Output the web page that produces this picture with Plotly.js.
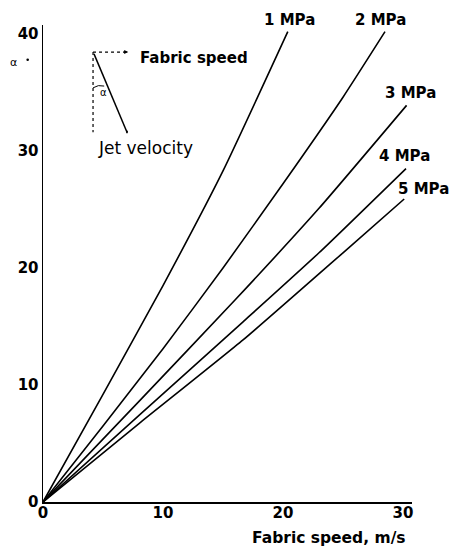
<!DOCTYPE html>
<html>
<head>
<meta charset="utf-8">
<script src="https://cdn.plot.ly/plotly-3.0.1.min.js"></script>
<style>html,body{margin:0;padding:0;background:#fff;}</style>
</head>
<body>
<div id="chart" style="width:451px;height:549px;"></div>
<script>
// Data: angle alpha (deg) vs fabric speed (m/s)
const seriesNames = ["1 MPa", "2 MPa", "3 MPa", "4 MPa", "5 MPa"];
const speed1 = [0, 5, 10, 15, 20.4];
const alpha1 = [0, 9.2, 18.5, 28.3, 40.2];
const speed2 = [0, 5, 10, 15, 20, 25, 28.5];
const alpha2 = [0, 6.5, 13.1, 20.0, 27.2, 34.6, 40.2];
const speed3 = [0, 8, 16, 23, 30.3];
const alpha3 = [0, 8.6, 17.26, 25.1, 33.9];
const speed4 = [0, 8, 16.67, 23, 30.25];
const alpha4 = [0, 7.4, 15.4, 21.3, 28.5];
const speed5 = [0, 8, 16.67, 25, 30.1];
const alpha5 = [0, 6.7, 13.85, 21.3, 25.9];
const xTicks = [0, 10, 20, 30];
const yTicks = [0, 10, 20, 30, 40];

const xs = [speed1, speed2, speed3, speed4, speed5];
const ys = [alpha1, alpha2, alpha3, alpha4, alpha5];
const labelShift = [[2, 12], [-5, 12], [4, 12], [-2, 13], [19, 10]];

const traces = xs.map((x, i) => ({
  x: x, y: ys[i], mode: "lines", name: seriesNames[i],
  line: {color: "#000", width: 1.6, shape: "spline", smoothing: 0.5}, hoverinfo: "skip"
}));

const annotations = xs.map((x, i) => ({
  x: x[x.length - 1], y: ys[i][ys[i].length - 1], xref: "x", yref: "y",
  text: "<b>" + seriesNames[i] + "</b>", showarrow: false,
  xanchor: "center", yanchor: "middle",
  xshift: labelShift[i][0], yshift: labelShift[i][1],
  font: {family: "DejaVu Sans", size: 15, color: "#000"}
}));

annotations.push(
  {x: 7.92, y: 37.95, xref: "x", yref: "y", text: "<b>Fabric speed</b>", showarrow: false,
   xanchor: "left", yanchor: "middle", font: {family: "DejaVu Sans", size: 15, color: "#000"}},
  {x: 4.4, y: 30.3, xref: "x", yref: "y", text: "Jet velocity", showarrow: false,
   xanchor: "left", yanchor: "middle", font: {family: "DejaVu Sans", size: 17, color: "#000"}},
  {x: 5.0, y: 35.0, xref: "x", yref: "y", text: "α", showarrow: false,
   xanchor: "center", yanchor: "middle", font: {family: "DejaVu Sans", size: 10, color: "#000"}},
  {x: -0.081, y: 37.6, xref: "paper", yref: "y", text: "α", showarrow: false,
   xanchor: "center", yanchor: "middle", font: {family: "DejaVu Sans", size: 11, color: "#000"}},
  {x: 0.989, y: -0.0755, xref: "paper", yref: "paper", text: "<b>Fabric speed, m/s</b>", showarrow: false,
   xanchor: "right", yanchor: "middle", font: {family: "DejaVu Sans", size: 15.5, color: "#000"}},
  // arrow head of the fabric speed component
  {x: 7.1, y: 38.46, ax: 6.6, ay: 38.46, xref: "x", yref: "y", axref: "x", ayref: "y",
   text: "", showarrow: true, arrowhead: 2, arrowsize: 0.8, arrowwidth: 1, arrowcolor: "#000"}
);

const shapes = [
  {type: "line", xref: "x", yref: "y", x0: 4.17, y0: 38.46, x1: 7.0, y1: 38.46,
   line: {color: "#000", width: 1.2, dash: "dot"}},
  {type: "line", xref: "x", yref: "y", x0: 4.17, y0: 38.46, x1: 4.17, y1: 31.6,
   line: {color: "#000", width: 1.2, dash: "dot"}},
  {type: "line", xref: "x", yref: "y", x0: 4.25, y0: 38.3, x1: 7.0, y1: 31.6,
   line: {color: "#000", width: 1.5}},
  {type: "path", xref: "x", yref: "y", path: "M 4.17 35.4 Q 4.6 35.7 5.1 35.55",
   line: {color: "#000", width: 1}},
  {type: "circle", xref: "x", yref: "y", x0: 6.92, y0: 31.5, x1: 7.08, y1: 31.75,
   fillcolor: "#000", line: {width: 0}},
  {type: "circle", xref: "paper", yref: "y", x0: -0.045, y0: 37.7, x1: -0.038, y1: 37.9,
   fillcolor: "#000", line: {width: 0}}
];

const layout = {
  width: 451, height: 549,
  margin: {l: 43, r: 39, t: 25, b: 47},
  paper_bgcolor: "#fff", plot_bgcolor: "#fff",
  showlegend: false,
  xaxis: {
    range: [0, 30.75], tickvals: xTicks, ticktext: xTicks.map(v => "<b>" + v + "</b>"),
    showgrid: false, zeroline: false, showline: true, linecolor: "#000", linewidth: 1.5,
    ticks: "", ticklabelstandoff: -4, tickfont: {family: "DejaVu Sans", size: 15, color: "#000"}, fixedrange: true
  },
  yaxis: {
    range: [0, 40.77], tickvals: yTicks, ticktext: yTicks.map(v => "<b>" + v + "</b>"),
    showgrid: false, zeroline: false, showline: true, linecolor: "#000", linewidth: 1.5,
    ticks: "", ticklabelstandoff: 0, tickfont: {family: "DejaVu Sans", size: 15, color: "#000"}, fixedrange: true
  },
  annotations: annotations,
  shapes: shapes
};

Plotly.newPlot("chart", traces, layout, {displayModeBar: false, staticPlot: true});
</script>
</body>
</html>
